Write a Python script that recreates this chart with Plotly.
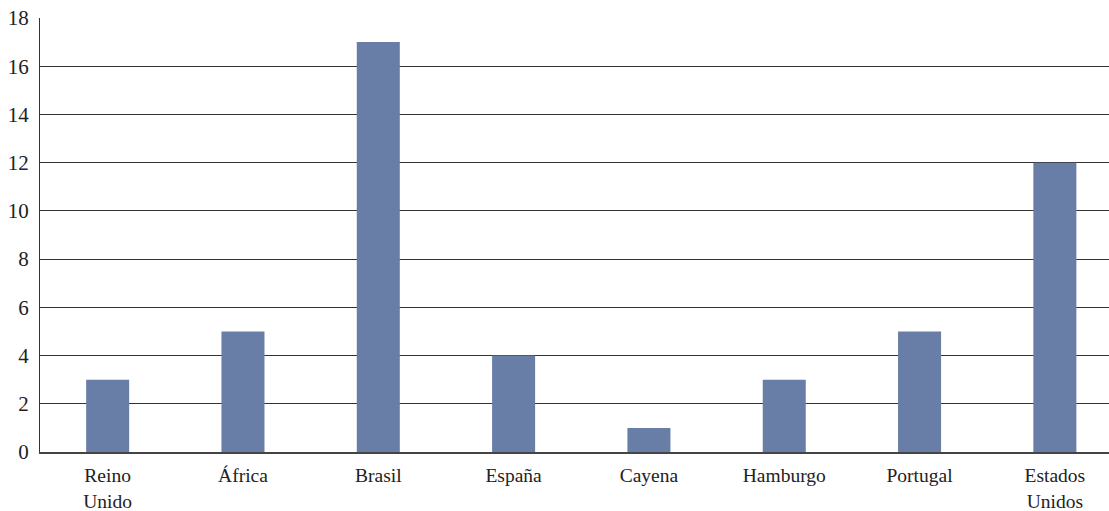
import plotly.graph_objects as go

categories = ["Reino<br>Unido", "África", "Brasil", "España", "Cayena", "Hamburgo", "Portugal", "Estados<br>Unidos"]
values = [3, 5, 17, 4, 1, 3, 5, 12]
y_ticks = list(range(0, 19, 2))

fig = go.Figure(go.Bar(
    x=list(range(len(categories))), y=values,
    marker=dict(color="#697ea7", line=dict(width=0)),
    width=0.318,
))

yfont = dict(family="Liberation Serif, DejaVu Serif, serif", size=21, color="#222222")
xfont = dict(family="Liberation Serif, DejaVu Serif, serif", size=19.5, color="#222222")

fig.update_layout(
    width=1109, height=511,
    margin=dict(l=40, r=0, t=18, b=59, autoexpand=False),
    paper_bgcolor="white", plot_bgcolor="white",
    font=yfont,
    showlegend=False,
)
fig.update_xaxes(
    range=[-0.5, 7.4], tickvals=list(range(len(categories))), ticktext=categories,
    showgrid=False, showline=True, linecolor="#444444", linewidth=2,
    ticks="", tickfont=xfont, ticklabelstandoff=5, automargin=False,
)
fig.update_yaxes(
    range=[0, 18], tickvals=y_ticks, showgrid=True, gridcolor="#333333", gridwidth=1,
    showline=True, linecolor="#333333", linewidth=1, ticks="", tickfont=yfont,
    zeroline=False, ticklabelstandoff=6, automargin=False,
)

fig.write_html("out.html")
